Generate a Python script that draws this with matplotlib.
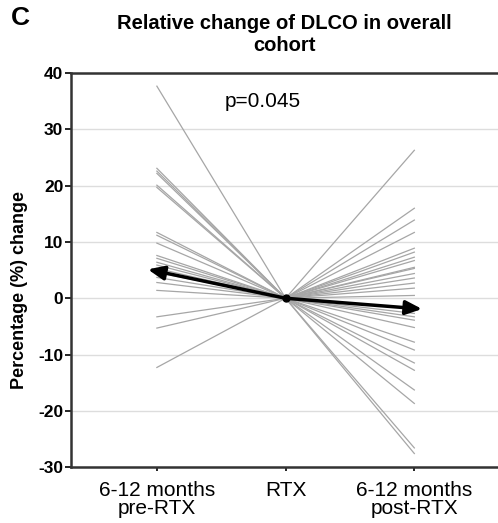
import matplotlib
matplotlib.use("Agg")
import matplotlib.pyplot as plt

plt.rcParams['font.family'] = ['Liberation Sans', 'DejaVu Sans']
plt.rcParams['axes.unicode_minus'] = False

# time points
categories = ["6-12 months\npre-RTX", "RTX", "6-12 months\npost-RTX"]

# % change of DLCO per patient, relative to the RTX value
pre_rtx = [37.7, 23.1, 22.6, 22.2, 20.1, 19.7, 11.7, 11.2, 9.8, 7.6, 7.1,
           6.4, 5.9, 5.3, 4.6, 3.7, 2.8, 1.4, -3.3, -5.3, -12.3]
post_rtx = [26.3, 16.0, 13.9, 11.7, 8.9, 8.2, 7.3, 6.7, 5.5, 5.3, 4.4, 3.6,
            2.7, 1.8, 0.5, -2.7, -3.3, -3.9, -5.2, -7.8, -9.2, -11.5, -12.8,
            -16.3, -18.7, -26.6, -27.6]

# mean change
mean_pre = 4.8
mean_post = -1.8

fig = plt.figure(figsize=(4.98, 5.23), dpi=100)
ax = fig.add_axes([0.1426, 0.107, 0.8574, 0.753])

for v in pre_rtx:
    ax.plot([0, 1], [v, 0], color='#a6a6a6', lw=0.9, zorder=2)
for v in post_rtx:
    ax.plot([1, 2], [0, v], color='#a6a6a6', lw=0.9, zorder=2)

# mean arrows
ax.annotate("", xy=(-0.07, mean_pre * 1.07), xytext=(1, 0),
            arrowprops=dict(arrowstyle='-|>,head_length=0.7,head_width=0.3',
                            color='black', lw=2.5,
                            mutation_scale=14, shrinkA=0, shrinkB=0), zorder=4)
ax.annotate("", xy=(2.06, mean_post * 1.06), xytext=(1, 0),
            arrowprops=dict(arrowstyle='-|>,head_length=0.7,head_width=0.3',
                            color='black', lw=2.5,
                            mutation_scale=14, shrinkA=0, shrinkB=0), zorder=4)
ax.plot([1], [0], 'o', color='black', ms=5, zorder=5)

ax.text(0.82, 35, "p=0.045", ha='center', va='center', fontsize=15)

ax.set_xlim(-0.667, 2.65)
ax.set_ylim(-30, 40)
ax.set_yticks(range(-30, 41, 10))
ax.set_xticks([0, 1, 2])
ax.set_xticklabels(categories, fontsize=15, linespacing=0.95)
for lab in ax.get_yticklabels():
    lab.set_fontweight('bold')
    lab.set_fontsize(12.5)
ax.yaxis.grid(True, color='#dddddd', lw=1)
ax.set_axisbelow(True)

for s in ['left', 'bottom', 'top']:
    ax.spines[s].set_linewidth(1.8)
    ax.spines[s].set_color('#333333')
ax.spines['right'].set_visible(False)
ax.tick_params(axis='y', direction='out', length=4, width=1.2, pad=1.5)
ax.tick_params(axis='x', direction='out', length=3, width=1.2, pad=7)

ax.set_ylabel("Percentage (%) change", fontsize=13, fontweight='bold')
ax.yaxis.set_label_coords(-0.10, 0.45)
ax.set_title("Relative change of DLCO in overall\ncohort", fontsize=14.5,
             fontweight='bold', pad=16, linespacing=1.2)
fig.text(0.022, 0.966, "C", fontsize=19, fontweight='bold', va='center')

fig.savefig("out.png", dpi=100)
